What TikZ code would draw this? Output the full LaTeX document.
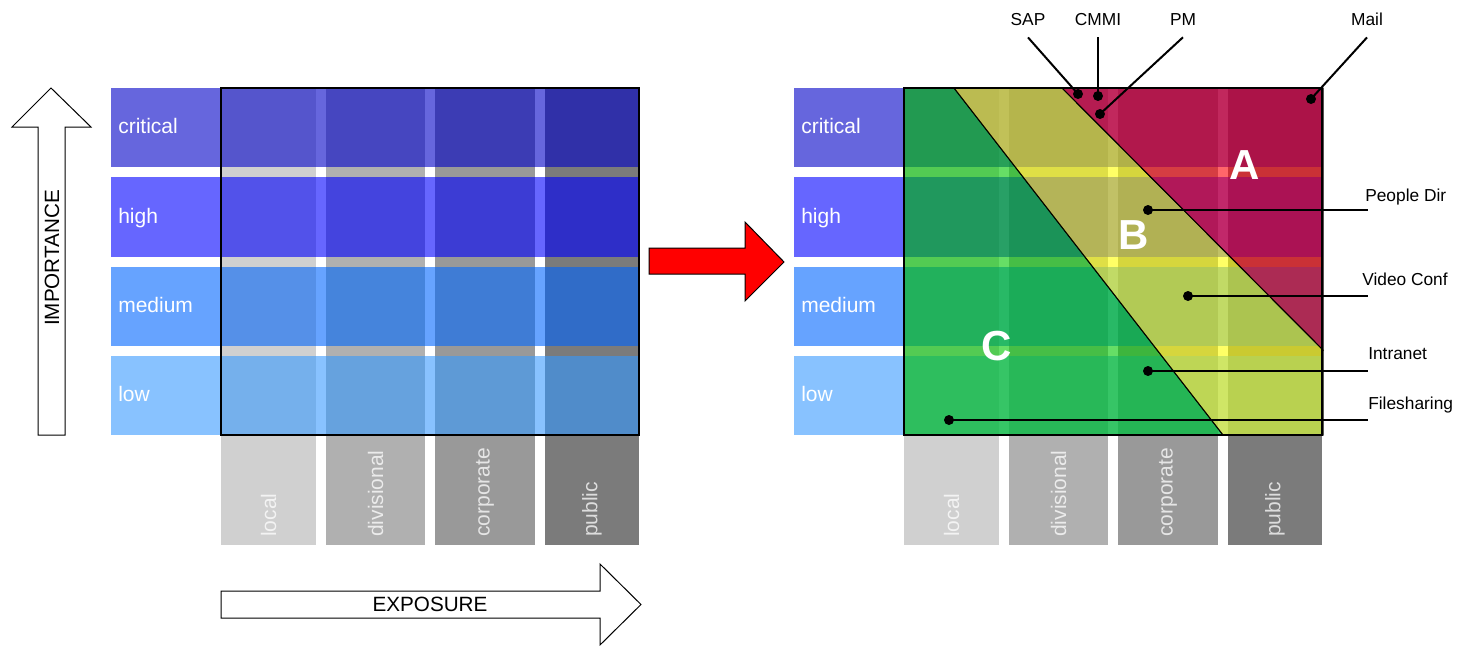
\documentclass[tikz,border=0pt]{standalone}
\usepackage{fontspec}
\setmainfont{Liberation Sans}

% importance rows
\definecolor{rowA}{HTML}{6666DD}
\definecolor{rowB}{HTML}{6666FF}
\definecolor{rowC}{HTML}{66A3FF}
\definecolor{rowD}{HTML}{88C2FF}
% exposure columns
\definecolor{colA}{HTML}{D0D0D0}
\definecolor{colB}{HTML}{B0B0B0}
\definecolor{colC}{HTML}{999999}
\definecolor{colD}{HTML}{7B7B7B}
% row x column cells
\definecolor{cAA}{HTML}{5555CC}\definecolor{cAB}{HTML}{4646C0}\definecolor{cAC}{HTML}{3C3CB4}\definecolor{cAD}{HTML}{3030A8}
\definecolor{cBA}{HTML}{5252EA}\definecolor{cBB}{HTML}{4444DE}\definecolor{cBC}{HTML}{3C3CD4}\definecolor{cBD}{HTML}{2E2EC8}
\definecolor{cCA}{HTML}{5590E8}\definecolor{cCB}{HTML}{4584DC}\definecolor{cCC}{HTML}{3F7CD5}\definecolor{cCD}{HTML}{306CC8}
\definecolor{cDA}{HTML}{75B0EC}\definecolor{cDB}{HTML}{66A2DE}\definecolor{cDC}{HTML}{5E9AD6}\definecolor{cDD}{HTML}{508CCA}
% risk zones
\definecolor{zoneA}{HTML}{FF0008}
\definecolor{zoneB}{HTML}{FFFF00}
\definecolor{zoneC}{HTML}{00C800}

\tikzset{
  rowlabel/.style={anchor=base west, inner sep=0pt, text=white, font=\fontsize{15.75}{18}\selectfont},
  collabel/.style={rotate=90, anchor=west, inner sep=0pt, text=white, text opacity=0.75, font=\fontsize{15.75}{18}\selectfont},
  gridline/.style={draw=black, line width=1pt},
  bigarrow/.style={draw=black, line width=0.75pt, fill=white},
  axistext/.style={inner sep=0pt, font=\fontsize{15.5}{18}\selectfont},
  callout/.style={inner sep=0pt, font=\fontsize{13}{15}\selectfont},
  lead/.style={draw=black, line width=1.5pt},
  zone/.style={fill opacity=0.6, draw=black, line width=0.75pt},
  zoneletter/.style={inner sep=0pt, text=white, font=\fontsize{31.5}{36}\selectfont\bfseries},
}

% the importance/exposure grid; #1 = horizontal offset, #2 = name prefix
\newcommand\riskgrid[2]{%
  \begin{scope}[shift={(#1,0)}]
    \foreach \r/\ya/\yb in {A/88/167,B/177/257,C/267/346,D/356/435}{
      \fill[fill=row\r] (111,\ya) rectangle (639,\yb);
    }
    \foreach \c/\xa/\xb in {A/221/316,B/326/425,C/435/535,D/545/639}{
      \fill[fill=col\c] (\xa,88) rectangle (\xb,545);
    }
    \foreach \r/\ya/\yb in {A/88/167,B/177/257,C/267/346,D/356/435}{
      \foreach \c/\xa/\xb in {A/221/316,B/326/425,C/435/535,D/545/639}{
        \fill[fill=c\r\c] (\xa,\ya) rectangle (\xb,\yb);
      }
    }
    \foreach \ya/\yb/\lab in {88/167/critical,177/257/high,267/346/medium,356/435/low}{
      \node[rowlabel] (#2-\lab) at (118,{(\ya+\yb)/2+6}) {\lab};
    }
    \foreach \xa/\xb/\lab in {221/316/local,326/425/divisional,435/535/corporate,545/639/public}{
      \node[collabel] (#2-\lab) at ({(\xa+\xb)/2},537) {\lab};
    }
    \draw[gridline] (221,88) rectangle (639,435);
  \end{scope}%
}

\begin{document}
\begin{tikzpicture}[x=0.75pt, y=-0.75pt]
  \fill[white] (0,0) rectangle (1467,646);
  \useasboundingbox (0,0) rectangle (1467,646);

  % left panel: plain grid with its axes
  \riskgrid{0}{L}
  \draw[bigarrow] (38,435) -- (38,127) -- (12,127) -- (51,88) -- (91,127)
        -- (65,127) -- (65,435) -- cycle;
  \node[axistext, rotate=90] (importance) at (52,258) {IMPORTANCE};
  \draw[bigarrow] (221,591) -- (600,591) -- (600,564) -- (641,604.5) -- (600,645)
        -- (600,618) -- (221,618) -- cycle;
  \node[axistext] (exposure) at (430,604.5) {EXPOSURE};

  % transition arrow
  \draw[draw=black, line width=0.75pt, fill=red] (649,248) -- (745,248) -- (745,222)
        -- (784,262) -- (745,301) -- (745,274) -- (649,274) -- cycle;

  % right panel: grid with risk zones
  \riskgrid{683}{R}
  \path[zone, fill=zoneC] (904,88) -- (954,88) -- (1223,435) -- (904,435) -- cycle;
  \path[zone, fill=zoneB] (954,88) -- (1062,88) -- (1323,350) -- (1323,435) -- (1223,435) -- cycle;
  \path[zone, fill=zoneA] (1062,88) -- (1323,88) -- (1323,350) -- cycle;
  \draw[gridline] (904,88) rectangle (1322,435);

  \node[zoneletter] (zA) at (1245,165) {A};
  \node[zoneletter] (zB) at (1134,235) {B};
  \node[zoneletter] (zC) at (997,346) {C};

  % systems placed in the zones
  \coordinate (sap-d)  at (1078,94);
  \coordinate (cmmi-d) at (1098,96);
  \coordinate (pm-d)   at (1100,114);
  \coordinate (mail-d) at (1311,99);
  \coordinate (pdir-d) at (1148,210);
  \coordinate (vc-d)   at (1188,296);
  \coordinate (intr-d) at (1148,371);
  \coordinate (fs-d)   at (949,420);

  \node[callout, anchor=base] (sap)  at (1028,26) {SAP};
  \node[callout, anchor=base] (cmmi) at (1098,26) {CMMI};
  \node[callout, anchor=base] (pm)   at (1183,26) {PM};
  \node[callout, anchor=base] (mail) at (1367,26) {Mail};
  \node[callout, anchor=base west] (pdir) at (1365,201) {People Dir};
  \node[callout, anchor=base west] (vc)   at (1362,285) {Video Conf};
  \node[callout, anchor=base west] (intr) at (1368,359) {Intranet};
  \node[callout, anchor=base west] (fs)   at (1368,409) {Filesharing};

  \coordinate (pdir-e) at (1368,210);
  \coordinate (vc-e)   at (1368,296);
  \coordinate (intr-e) at (1368,371);
  \coordinate (fs-e)   at (1368,420);

  \draw[lead] ([yshift=-8.25pt]sap.south)  -- (sap-d);
  \draw[lead] ([yshift=-8.25pt]cmmi.south) -- (cmmi-d);
  \draw[lead] ([yshift=-8.25pt]pm.south)   -- (pm-d);
  \draw[lead] ([yshift=-8.25pt]mail.south) -- (mail-d);
  \draw[lead] (pdir-d) -- (pdir-e);
  \draw[lead] (vc-d)   -- (vc-e);
  \draw[lead] (intr-d) -- (intr-e);
  \draw[lead] (fs-d)   -- (fs-e);

  \foreach \d in {sap-d,cmmi-d,pm-d,mail-d,pdir-d,vc-d,intr-d,fs-d}{
    \fill[black] (\d) circle (3.75pt);
  }
\end{tikzpicture}
\end{document}
